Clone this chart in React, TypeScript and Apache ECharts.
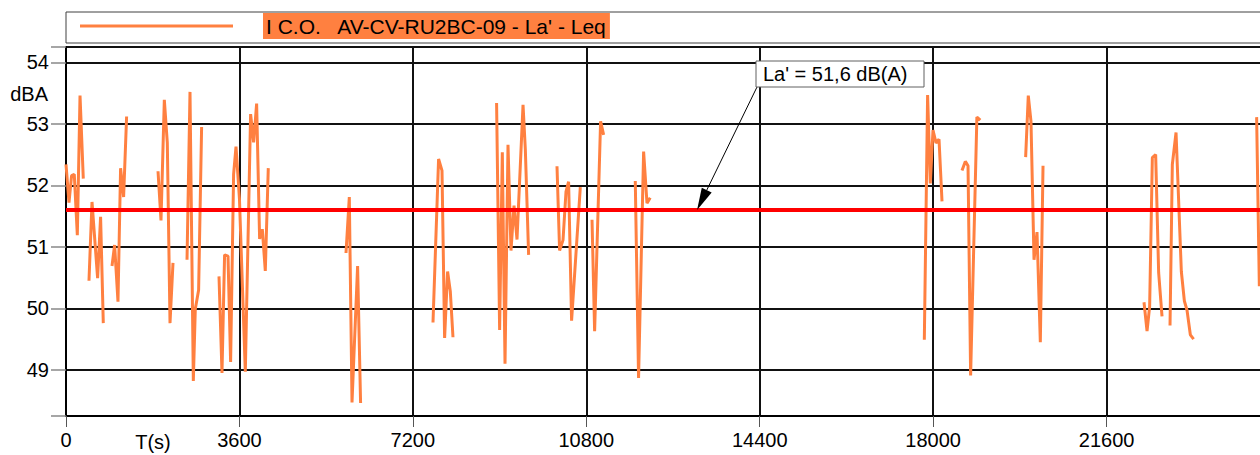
import React, { useEffect, useRef } from 'react';
import * as echarts from 'echarts';

const seriesName = "I C.O.   AV-CV-RU2BC-09 - La' - Leq";
const meanLabel = "La' = 51,6 dB(A)";
const laMean = 51.6;
const arrowTargetSec = 13100;

// time (s) and Leq (dBA); null marks a gap in the record
const timeSec = [
  0, 62, 116, 172, 235, 291, 359, 420,
  477, 540, 656, 718, 774, 860,
  955, 1009, 1079, 1133, 1196, 1258, 1600,
  1910, 1972, 2041, 2103, 2159, 2221, 2400,
  2512, 2574, 2643, 2684, 2753, 2815, 3000,
  3176, 3238, 3292, 3363, 3417, 3479, 3529, 3600, 3722, 3832, 3895, 3957, 4019, 4075, 4137, 4199, 4400,
  5812, 5881, 5937, 6053, 6115, 7000,
  7618, 7734, 7805, 7859, 7921, 7977, 8033, 8500,
  8938, 9001, 9057, 9113, 9175, 9237, 9300, 9362, 9487, 9535, 9603, 9900,
  10192, 10246, 10317, 10379, 10433, 10495, 10676, 10800,
  10919, 10973, 11097, 11160, 11500,
  11817, 11885, 11990, 12060, 12127, 15000,
  17817, 17885, 17941, 17997, 18059, 18122, 18184, 18400,
  18599, 18668, 18724, 18778, 18908, 18979, 19500,
  19920, 19975, 20031, 20094, 20156, 20225, 20281, 21000,
  22377, 22440, 22494, 22550, 22619, 22681, 22751, 22850,
  22917, 22965, 23042, 23152, 23215, 23270, 23339, 23407, 24000,
  24715, 24771,
];

const leqDbA = [
  52.34, 51.72, 52.16, 52.18, 51.19, 53.46, 52.11, null,
  50.45, 51.73, 50.49, 51.49, 49.76, null,
  50.69, 51.03, 50.11, 52.28, 51.81, 53.12, null,
  52.23, 51.43, 53.39, 52.69, 49.76, 50.74, null,
  50.79, 53.52, 48.82, 49.99, 50.30, 52.95, null,
  50.52, 48.95, 50.87, 50.85, 49.13, 52.18, 52.63, 51.79, 48.97, 53.16, 52.7, 53.33, 51.13, 51.29, 50.61, 52.28, null,
  50.90, 51.81, 48.47, 50.69, 48.46, null,
  49.77, 52.43, 52.24, 49.52, 50.60, 50.28, 49.53, null,
  53.34, 49.65, 52.54, 49.10, 52.66, 50.94, 51.67, 51.12, 53.31, 52.58, 50.87, null,
  52.31, 50.94, 51.11, 51.90, 52.06, 49.80, 51.97, null,
  51.44, 49.63, 53.04, 52.82, null,
  52.07, 48.87, 52.55, 51.71, 51.80, null,
  49.49, 53.47, 52.03, 52.90, 52.69, 52.75, 51.74, null,
  52.24, 52.39, 52.32, 48.91, 53.11, 53.06, null,
  52.46, 53.46, 53.04, 50.79, 51.24, 49.45, 52.32, null,
  50.10, 49.63, 50.03, 52.45, 52.50, 50.58, 49.87, null,
  49.72, 52.34, 52.86, 50.60, 50.12, 49.97, 49.57, 49.50, null,
  53.11, 50.36,
];

const xMin = 0;
const xMax = 25200;
const xStep = 3600;
const xLastLabel = 21600;
const yMin = 48.25;
const yMax = 54.25;

const FONT = 'Liberation Sans, Arial, sans-serif';
const ORANGE = '#ff8040';

export default function App() {
  const ref = useRef<HTMLDivElement>(null);

  useEffect(() => {
    if (!ref.current) return;
    const chart = echarts.init(ref.current, undefined, { renderer: 'svg' });
    const data = timeSec.map((t, i) => [t, leqDbA[i]]);

    chart.setOption({
      animation: false,
      backgroundColor: '#ffffff',
      textStyle: { fontFamily: FONT },
      grid: {
        left: 66,
        top: 47,
        width: 1214,
        height: 369,
        show: true,
        borderColor: '#808080',
        borderWidth: 1,
        backgroundColor: '#ffffff',
      },
      legend: {
        left: 80,
        top: 13,
        padding: 0,
        itemWidth: 153,
        itemHeight: 3,
        icon: 'rect',
        data: [seriesName],
        formatter: (name: string) => `{g|}{t|${name}}`,
        textStyle: {
          fontFamily: FONT,
          rich: {
            g: { width: 25 },
            t: {
              backgroundColor: ORANGE,
              color: '#000000',
              fontSize: 21,
              fontFamily: FONT,
              lineHeight: 21,
              padding: [3, 3, 2, 3],
            },
          },
        },
      },
      xAxis: {
        type: 'value',
        min: xMin,
        max: xMax,
        interval: xStep,
        axisLine: { show: true, lineStyle: { color: '#000', width: 2 } },
        axisTick: { show: true, length: 11, lineStyle: { color: '#555', width: 1 } },
        axisLabel: {
          color: '#000',
          fontSize: 20,
          fontFamily: FONT,
          margin: 14,
          formatter: (v: number) => (v <= xLastLabel ? String(v) : ''),
        },
        splitLine: { show: true, lineStyle: { color: '#111', width: 2 } },
      },
      yAxis: {
        type: 'value',
        min: yMin,
        max: yMax,
        minInterval: 1,
        maxInterval: 1,
        splitNumber: 6,
        axisLine: { show: true, lineStyle: { color: '#000', width: 2 } },
        axisTick: { show: true, length: 15, lineStyle: { color: '#888', width: 1.5 } },
        axisLabel: {
          color: '#000',
          fontSize: 20,
          fontFamily: FONT,
          margin: 17,
          formatter: (v: number) => (Math.abs(v - Math.round(v)) < 1e-6 ? String(Math.round(v)) : ''),
        },
        splitLine: { show: true, lineStyle: { color: '#111', width: 2 } },
      },
      series: [
        {
          name: seriesName,
          type: 'line',
          data,
          showSymbol: false,
          symbol: 'none',
          connectNulls: false,
          color: ORANGE,
          lineStyle: { color: ORANGE, width: 3 },
          z: 3,
          markLine: {
            silent: true,
            symbol: 'none',
            label: { show: false },
            lineStyle: { color: '#ff0000', width: 4, type: 'solid' },
            data: [{ yAxis: laMean }],
            z: 5,
          },
        },
      ],
    });

    const tip = chart.convertToPixel({ gridIndex: 0 }, [arrowTargetSec, laMean]) as number[];
    const start = [757, 87];
    const dx = start[0] - tip[0];
    const dy = start[1] - tip[1];
    const len = Math.sqrt(dx * dx + dy * dy);
    const ux = dx / len;
    const uy = dy / len;
    const headLen = 22;
    const halfW = 5.5;
    const bx = tip[0] + ux * headLen;
    const by = tip[1] + uy * headLen;
    const px = -uy;
    const py = ux;

    chart.setOption({
      graphic: [
        {
          type: 'rect',
          id: 'legendBox',
          z: 0,
          shape: { x: 66, y: 12, width: 1300, height: 31 },
          style: { fill: '#ffffff', stroke: '#404040', lineWidth: 1 },
          silent: true,
        },
        {
          type: 'line',
          id: 'arrowLine',
          z: 10,
          shape: { x1: start[0], y1: start[1], x2: bx, y2: by },
          style: { stroke: '#000', lineWidth: 1 },
          silent: true,
        },
        {
          type: 'polygon',
          id: 'arrowHead',
          z: 10,
          shape: {
            points: [
              [tip[0], tip[1]],
              [bx + px * halfW, by + py * halfW],
              [bx - px * halfW, by - py * halfW],
            ],
          },
          style: { fill: '#000' },
          silent: true,
        },
        {
          type: 'rect',
          id: 'noteBox',
          z: 10,
          shape: { x: 756, y: 61, width: 168, height: 26 },
          style: { fill: '#ffffff', stroke: '#606060', lineWidth: 1 },
          silent: true,
        },
        {
          type: 'text',
          id: 'noteText',
          z: 11,
          x: 763,
          y: 74,
          style: {
            text: meanLabel,
            fontSize: 20,
            fontFamily: FONT,
            fill: '#000',
            verticalAlign: 'middle',
            align: 'left',
          },
          silent: true,
        },
        {
          type: 'text',
          id: 'yName',
          z: 11,
          x: 48,
          y: 94,
          style: {
            text: 'dBA',
            fontSize: 20,
            fontFamily: FONT,
            fill: '#000',
            verticalAlign: 'middle',
            align: 'right',
          },
          silent: true,
        },
        {
          type: 'text',
          id: 'xName',
          z: 11,
          x: 153,
          y: 442,
          style: {
            text: 'T(s)',
            fontSize: 20,
            fontFamily: FONT,
            fill: '#000',
            verticalAlign: 'middle',
            align: 'center',
          },
          silent: true,
        },
      ],
    });

    return () => {
      chart.dispose();
    };
  }, []);

  return (
    <div style={{ position: 'absolute', left: 0, top: 0, width: 1260, height: 455, overflow: 'hidden' }}>
      <div ref={ref} style={{ width: 1320, height: 455 }} />
    </div>
  );
}
